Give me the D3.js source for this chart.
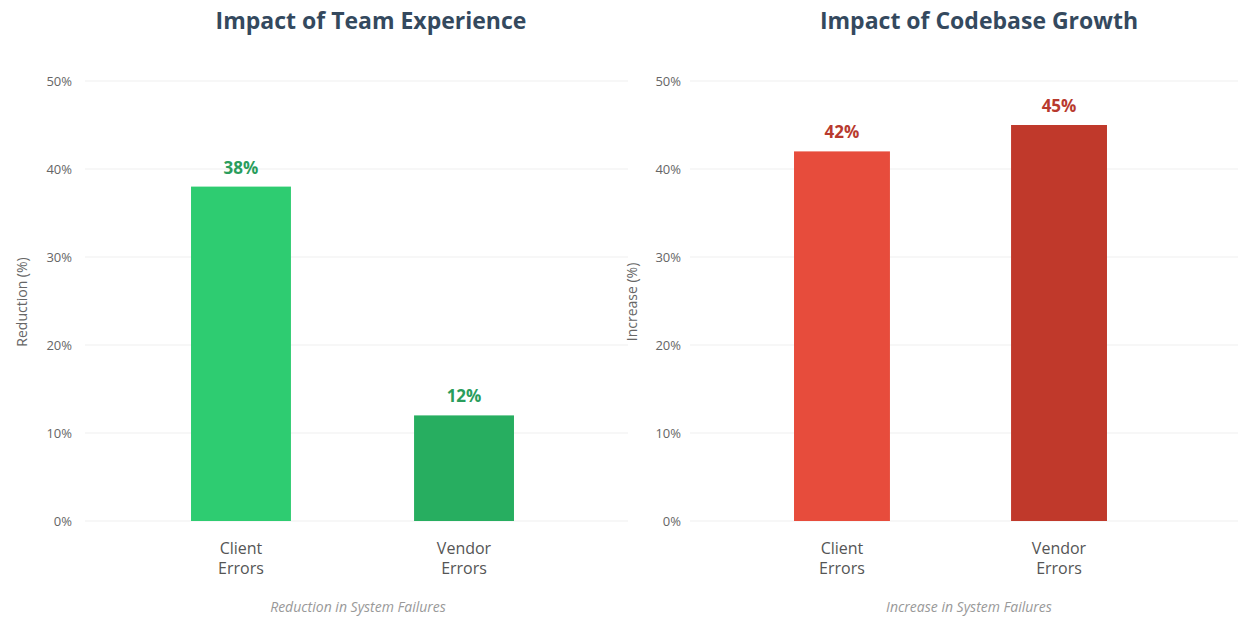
<!DOCTYPE html>
<html lang="en">
<head>
  <meta charset="UTF-8">
  <title>Impact charts</title>
  <script src="https://cdn.jsdelivr.net/npm/d3@7/dist/d3.min.js"></script>
  <style>
    body { margin: 0; background: #fff; font-family: "Open Sans", "Noto Sans", sans-serif; }
  </style>
</head>
<body>
  <script>
    var w = 1238
    var h = 620

    // data
    var categories = ['Client Errors', 'Vendor Errors']
    var experienceValues = [38, 12]
    var growthValues = [42, 45]
    var yTicks = [0, 10, 20, 30, 40, 50]

    var panels = [
      {
        title: 'Impact of Team Experience', yTitle: 'Reduction (%)', xTitle: 'Reduction in System Failures',
        values: experienceValues, colors: ['#2ecc71', '#27ae60'], labelColor: '#2a9d5c',
        range: [79.5, 625.5], pi: 0.552, grid: [85, 628], axisX: 72, yTitleX: 27, titleX: 371, xTitleX: 358
      },
      {
        title: 'Impact of Codebase Growth', yTitle: 'Increase (%)', xTitle: 'Increase in System Failures',
        values: growthValues, colors: ['#e74c3c', '#c0392b'], labelColor: '#b83a2e',
        range: [685.5, 1215.5], pi: 0.558, grid: [690, 1238], axisX: 681, yTitleX: 637, titleX: 979, xTitleX: 969
      }
    ]

    var yScale = d3.scaleLinear().domain([0, 50]).range([521, 81])

    var svg = d3.select('body').append('svg').attr('width', w).attr('height', h)

    panels.forEach(function (p) {
      var g = svg.append('g')
      var xScale = d3.scaleBand().domain(categories).range(p.range)
        .paddingInner(p.pi).paddingOuter(0.5)

      // gridlines
      g.selectAll('line.grid').data(yTicks).enter().append('line')
        .attr('x1', p.grid[0]).attr('x2', p.grid[1])
        .attr('y1', function (d) { return yScale(d) }).attr('y2', function (d) { return yScale(d) })
        .attr('stroke', '#efefef').attr('stroke-width', 1)

      // y axis ticks
      var yAxis = g.append('g').attr('transform', 'translate(' + p.axisX + ',0)')
        .call(d3.axisLeft(yScale).tickValues(yTicks).tickSize(0).tickPadding(0)
          .tickFormat(function (d) { return d + '%' }))
      yAxis.select('.domain').remove()
      yAxis.selectAll('text').attr('fill', '#666').attr('font-size', '13px')
        .attr('font-family', '"Open Sans", sans-serif')

      // bars
      g.selectAll('rect').data(p.values).enter().append('rect')
        .attr('x', function (d, i) { return xScale(categories[i]) })
        .attr('y', function (d) { return yScale(d) })
        .attr('width', xScale.bandwidth())
        .attr('height', function (d) { return yScale(0) - yScale(d) })
        .attr('fill', function (d, i) { return p.colors[i] })

      // value labels
      g.selectAll('text.val').data(p.values).enter().append('text')
        .attr('class', 'val')
        .text(function (d) { return d + '%' })
        .attr('x', function (d, i) { return xScale(categories[i]) + xScale.bandwidth() / 2 })
        .attr('y', function (d) { return yScale(d) - 13 })
        .attr('text-anchor', 'middle')
        .attr('font-size', '17px').attr('font-weight', 'bold')
        .attr('fill', p.labelColor)

      // category labels (two lines)
      categories.forEach(function (c) {
        var t = g.append('text').attr('text-anchor', 'middle')
          .attr('font-size', '16px').attr('fill', '#555')
        c.split(' ').forEach(function (word, k) {
          t.append('tspan').attr('x', xScale(c) + xScale.bandwidth() / 2)
            .attr('y', 554 + k * 20).text(word)
        })
      })

      // titles
      g.append('text').text(p.title)
        .attr('x', p.titleX).attr('y', 29).attr('text-anchor', 'middle')
        .attr('font-size', '23px').attr('font-weight', 'bold').attr('fill', '#34495e')

      g.append('text').text(p.xTitle)
        .attr('x', p.xTitleX).attr('y', 612).attr('text-anchor', 'middle')
        .attr('font-size', '14px').attr('font-style', 'italic').attr('fill', '#999')

      g.append('text').text(p.yTitle)
        .attr('transform', 'translate(' + p.yTitleX + ',302) rotate(-90)')
        .attr('text-anchor', 'middle')
        .attr('font-size', '14px').attr('fill', '#666')
    })
  </script>
</body>
</html>
